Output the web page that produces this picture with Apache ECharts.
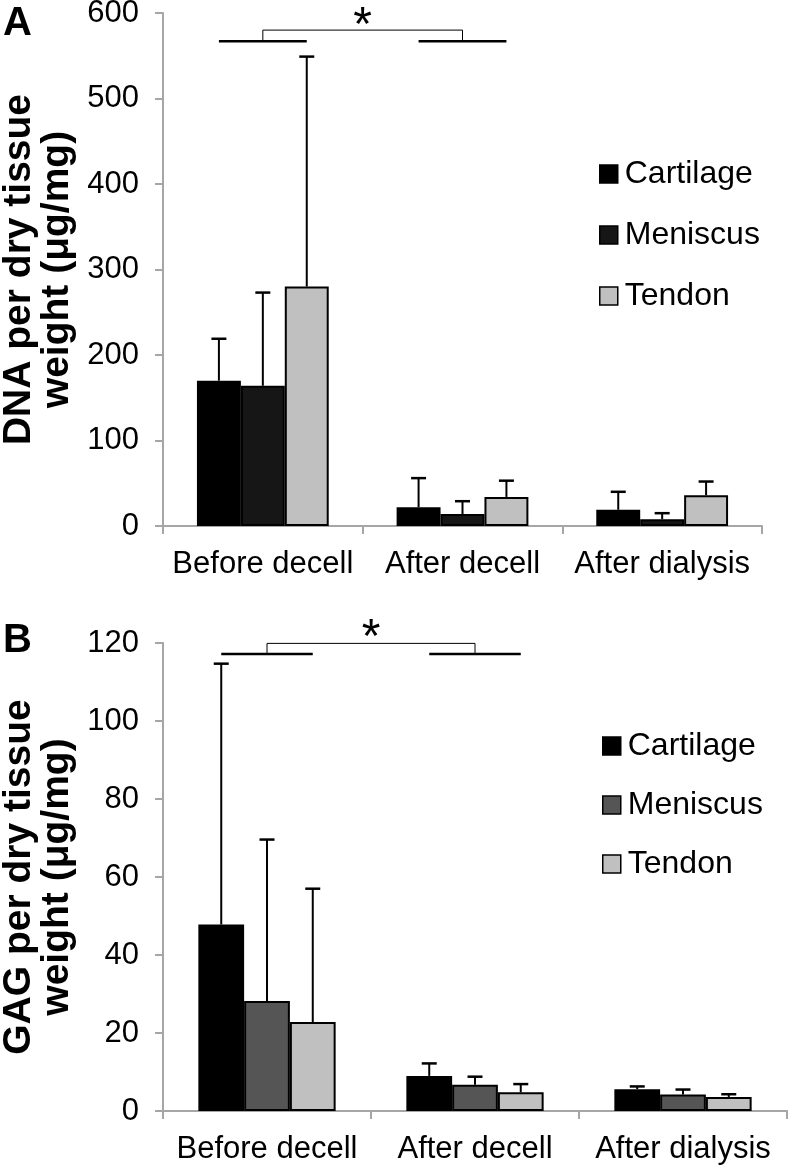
<!DOCTYPE html>
<html>
<head>
<meta charset="utf-8">
<script src="https://cdn.jsdelivr.net/npm/echarts@6/dist/echarts.min.js"></script>
<style>
  html, body { margin: 0; padding: 0; background: #fff; }
  #a { position: absolute; left: 0; top: 0; width: 792px; height: 585px; }
  #b { position: absolute; left: 0; top: 585px; width: 792px; height: 586px; }
</style>
</head>
<body>
<div id="a"></div>
<div id="b"></div>
<script>
// ---- data ----
const categories = ['Before decell', 'After decell', 'After dialysis'];
const seriesNames = ['Cartilage', 'Meniscus', 'Tendon'];

// Panel A: DNA per dry tissue weight (µg/mg)
const dnaCartilage = [170, 22, 19];
const dnaCartilageSD = [49, 34, 21];
const dnaMeniscus = [164, 14, 8];
const dnaMeniscusSD = [109, 15, 7];
const dnaTendon = [280, 34, 36];
const dnaTendonSD = [269, 19, 16];
const dnaTicks = [0, 100, 200, 300, 400, 500, 600];

// Panel B: GAG per dry tissue weight (µg/mg)
const gagCartilage = [47.8, 9.0, 5.6];
const gagCartilageSD = [66.9, 3.2, 0.7];
const gagMeniscus = [28.2, 6.7, 4.2];
const gagMeniscusSD = [41.4, 2.1, 1.3];
const gagTendon = [22.8, 4.8, 3.6];
const gagTendonSD = [34.2, 2.1, 0.7];
const gagTicks = [0, 20, 40, 60, 80, 100, 120];

// significance bracket: [fromCategory, toCategory, lineY, bracketY, starY]
const dnaSig = [[0, 1, 567, 580, 584]];
const gagSig = [[0, 1, 117.2, 119.9, 121]];

const FONT = '"Liberation Sans", Arial, sans-serif';
const GAP = 0.34;

function errSeries(means, sds, k) {
  return {
    type: 'custom',
    z: 5,
    silent: true,
    data: means.map((m, i) => [i, m, m + sds[i]]),
    encode: { x: 0, y: [1, 2] },
    renderItem: function (params, api) {
      const catW = api.size([1, 0])[0];
      const barW = catW * (1 - GAP) / 3;
      const p0 = api.coord([api.value(0), api.value(1)]);
      const p1 = api.coord([api.value(0), api.value(2)]);
      const x = p0[0] + (k - 1) * barW;
      const cap = 7.5;
      return {
        type: 'group',
        children: [
          { type: 'line', shape: { x1: x, y1: p0[1], x2: x, y2: p1[1] }, style: { stroke: '#000', lineWidth: 2 } },
          { type: 'line', shape: { x1: x - cap, y1: p1[1], x2: x + cap, y2: p1[1] }, style: { stroke: '#000', lineWidth: 2.5 } }
        ]
      };
    }
  };
}

function sigSeries(sig) {
  return {
    type: 'custom',
    z: 6,
    silent: true,
    clip: false,
    data: sig,
    encode: { x: 0, y: 2 },
    renderItem: function (params, api) {
      const catW = api.size([1, 0])[0];
      const barW = catW * (1 - GAP) / 3;
      const a = api.coord([api.value(0), api.value(2)]);
      const b = api.coord([api.value(1), api.value(2)]);
      const yB = api.coord([api.value(0), api.value(3)])[1];
      const yS = api.coord([api.value(0), api.value(4)])[1];
      return {
        type: 'group',
        children: [
          { type: 'line', shape: { x1: a[0] - barW, y1: a[1], x2: a[0] + barW, y2: a[1] }, style: { stroke: '#000', lineWidth: 2.5 } },
          { type: 'line', shape: { x1: b[0] - barW, y1: b[1], x2: b[0] + barW, y2: b[1] }, style: { stroke: '#000', lineWidth: 2.5 } },
          { type: 'polyline', shape: { points: [[a[0], a[1]], [a[0], yB], [b[0], yB], [b[0], b[1]]] }, style: { stroke: '#000', lineWidth: 1, fill: null } },
          { type: 'text', x: (a[0] + b[0]) / 2, y: yS, style: { text: '*', font: '48px ' + FONT, fill: '#000', align: 'center', verticalAlign: 'middle' } }
        ]
      };
    }
  };
}

function buildOption(cfg) {
  const colors = cfg.colors;
  const bars = cfg.means.map((m, k) => ({
    name: seriesNames[k],
    type: 'bar',
    data: m,
    barGap: '0%',
    barCategoryGap: (GAP * 100) + '%',
    itemStyle: { color: colors[k], borderColor: '#000', borderWidth: 2 },
    z: 3
  }));
  const errs = cfg.means.map((m, k) => errSeries(m, cfg.sds[k], k));
  return {
    animation: false,
    graphic: [{
      type: 'text', left: 3, top: cfg.letterTop,
      style: { text: cfg.letter, font: 'bold 40px ' + FONT, fill: '#000' }
    }],
    legend: {
      data: seriesNames,
      orient: 'vertical',
      left: cfg.legendLeft,
      top: cfg.legendTop,
      padding: 0,
      icon: 'rect',
      itemWidth: 18,
      itemHeight: 18,
      itemGap: cfg.legendGap,
      selectedMode: false,
      itemStyle: { borderColor: '#000', borderWidth: 1.5 },
      textStyle: { fontFamily: FONT, fontSize: 32, color: '#000', lineHeight: 30, padding: [0, 0, 0, 2] }
    },
    grid: Object.assign({ containLabel: false, outerBoundsMode: 'none' }, cfg.grid),
    xAxis: {
      type: 'category',
      data: categories,
      axisLine: { lineStyle: { color: '#a6a6a6', width: 2 } },
      axisTick: { show: true, length: 8, interval: 0, lineStyle: { color: '#a6a6a6', width: 2 } },
      axisLabel: { fontFamily: FONT, fontSize: 31, color: '#000', margin: 23, interval: 0 },
      splitLine: { show: false }
    },
    yAxis: {
      type: 'value',
      min: cfg.ticks[0],
      max: cfg.ticks[cfg.ticks.length - 1],
      interval: cfg.ticks[1] - cfg.ticks[0],
      name: cfg.yName,
      nameLocation: 'middle',
      nameRotate: 90,
      nameGap: cfg.nameGap,
      nameTextStyle: { fontFamily: FONT, fontSize: 39, fontWeight: 'bold', color: '#000', lineHeight: 38 },
      axisLine: { show: true, lineStyle: { color: '#a6a6a6', width: 2 } },
      axisTick: { show: true, length: 8, lineStyle: { color: '#a6a6a6', width: 2 } },
      axisLabel: { fontFamily: FONT, fontSize: 31, color: '#000', margin: 24 },
      splitLine: { show: false }
    },
    series: bars.concat(errs).concat([sigSeries(cfg.sig)])
  };
}

const chartA = echarts.init(document.getElementById('a'), null, { renderer: 'canvas' });
chartA.setOption(buildOption({
  letter: 'A', letterTop: 4,
  colors: ['#000000', '#161616', '#c0c0c0'],
  means: [dnaCartilage, dnaMeniscus, dnaTendon],
  sds: [dnaCartilageSD, dnaMeniscusSD, dnaTendonSD],
  ticks: dnaTicks,
  sig: dnaSig,
  yName: 'DNA per dry tissue\nweight (μg/mg)',
  nameGap: 85,
  grid: { left: 163, right: 30, top: 13, bottom: 59 },
  legendLeft: 599, legendTop: 158, legendGap: 29
}));

const chartB = echarts.init(document.getElementById('b'), null, { renderer: 'canvas' });
chartB.setOption(buildOption({
  letter: 'B', letterTop: 36,
  colors: ['#000000', '#555555', '#c0c0c0'],
  means: [gagCartilage, gagMeniscus, gagTendon],
  sds: [gagCartilageSD, gagMeniscusSD, gagTendonSD],
  ticks: gagTicks,
  sig: gagSig,
  yName: 'GAG per dry tissue\nweight (μg/mg)',
  nameGap: 85,
  grid: { left: 163, right: 5, top: 58, bottom: 60 },
  legendLeft: 602, legendTop: 145, legendGap: 27
}));
</script>
</body>
</html>
